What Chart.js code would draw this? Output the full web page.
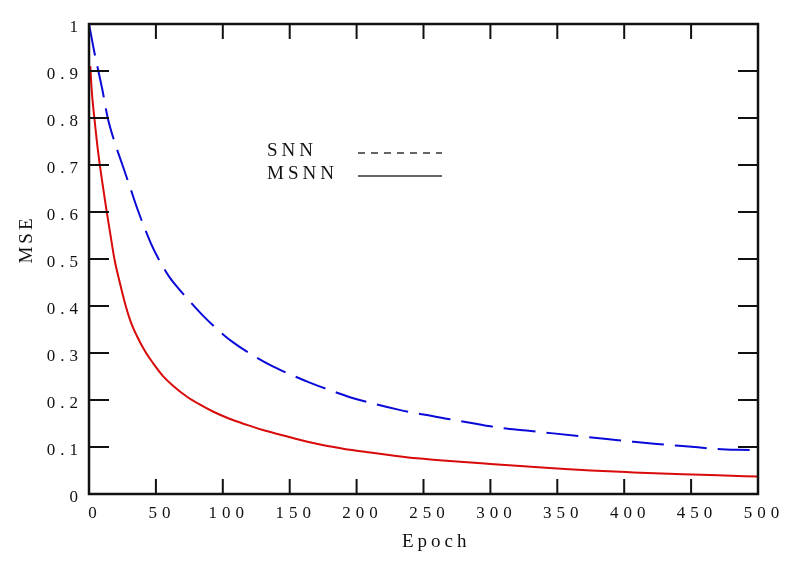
<!DOCTYPE html>
<html>
<head>
<meta charset="utf-8">
<script src="https://cdn.jsdelivr.net/npm/chart.js@4"></script>
<style>
  html, body { margin: 0; padding: 0; background: #fff; }
  #grafica { display: block; }
</style>
</head>
<body>
<canvas id="grafica" width="796" height="562"></canvas>
<script>
// SNN (dashed blue)
const epochsSNN = [0, 2, 4, 7, 10, 14, 19, 25, 31, 37, 46, 52, 60, 66, 75, 85, 96, 108, 122, 137,
  150, 165, 180, 195, 213, 232, 250, 270, 288, 307, 327, 347, 367, 387, 407, 427, 448, 469, 485, 500];
const mseSNN = [1.0, 0.97, 0.94, 0.90, 0.86, 0.80, 0.75, 0.70, 0.65, 0.60, 0.535, 0.50, 0.462, 0.440, 0.411, 0.380, 0.350, 0.322, 0.296, 0.272,
  0.255, 0.237, 0.221, 0.206, 0.192, 0.179, 0.169, 0.159, 0.150, 0.141, 0.135, 0.129, 0.123, 0.117, 0.111, 0.106, 0.101, 0.096, 0.094, 0.093];

// MSNN (solid red)
const epochsMSNN = [1, 2, 4, 6, 8, 10, 13, 16, 19, 23, 27, 31, 36, 42, 48, 55, 63, 73, 83, 93,
  105, 118, 130, 143, 158, 170, 183, 195, 208, 227, 245, 262, 280, 300, 325, 347, 375, 407, 444, 470, 500];
const mseMSNN = [0.91, 0.86, 0.80, 0.747, 0.702, 0.662, 0.605, 0.552, 0.50, 0.45, 0.405, 0.368, 0.335, 0.303, 0.278, 0.252, 0.230, 0.2075, 0.190, 0.175,
  0.160, 0.147, 0.136, 0.126, 0.115, 0.107, 0.100, 0.094, 0.089, 0.082, 0.076, 0.072, 0.068, 0.064, 0.059, 0.055, 0.050, 0.046, 0.042, 0.040, 0.037];

const xTicks = [0, 50, 100, 150, 200, 250, 300, 350, 400, 450, 500];
const yTicks = [0, 0.1, 0.2, 0.3, 0.4, 0.5, 0.6, 0.7, 0.8, 0.9, 1];
const xTitle = 'Epoch';
const yTitle = 'MSE';

const fuente = "'Liberation Serif', 'DejaVu Serif', serif";
const tinta = '#111';

function puntos(xs, ys) {
  return xs.map((x, i) => ({ x: x, y: ys[i] }));
}

// letter spacing like the original (canvas state is reset on resize)
const espaciado = {
  id: 'espaciado',
  beforeUpdate(chart) { chart.ctx.letterSpacing = '5px'; },
  beforeDraw(chart) { chart.ctx.letterSpacing = '5px'; }
};

// frame with inner ticks on all four sides, plus axis titles
const marco = {
  id: 'marco',
  afterDraw(chart) {
    const ctx = chart.ctx;
    const a = chart.chartArea;
    const sx = chart.scales.x, sy = chart.scales.y;
    ctx.save();
    ctx.strokeStyle = '#111';
    ctx.lineWidth = 2.5;
    ctx.strokeRect(a.left, a.top, a.right - a.left, a.bottom - a.top);
    ctx.lineWidth = 2;
    ctx.beginPath();
    xTicks.slice(1, -1).forEach(v => {
      const px = sx.getPixelForValue(v);
      ctx.moveTo(px, a.bottom); ctx.lineTo(px, a.bottom - 15);
      ctx.moveTo(px, a.top); ctx.lineTo(px, a.top + 15);
    });
    yTicks.slice(1, -1).forEach(v => {
      const py = sy.getPixelForValue(v);
      ctx.moveTo(a.left, py); ctx.lineTo(a.left + 20, py);
      ctx.moveTo(a.right, py); ctx.lineTo(a.right - 20, py);
    });
    ctx.stroke();

    ctx.fillStyle = tinta;
    ctx.font = '19px ' + fuente;
    ctx.letterSpacing = '4px';
    ctx.textAlign = 'left';
    ctx.textBaseline = 'alphabetic';
    ctx.fillText(xTitle, 402, 547);

    ctx.letterSpacing = '3px';
    ctx.translate(32, 241);
    ctx.rotate(-Math.PI / 2);
    const w = ctx.measureText(yTitle).width - 3;
    ctx.fillText(yTitle, -w / 2, 0);
    ctx.restore();
  }
};

// legend placed inside the plot, like the picture
const leyenda = {
  id: 'leyenda',
  afterDraw(chart) {
    const ctx = chart.ctx;
    const filas = [{ y: 151, dash: [7, 6] }, { y: 174, dash: [] }];
    ctx.save();
    ctx.letterSpacing = '4px';
    ctx.font = '19px ' + fuente;
    ctx.fillStyle = tinta;
    ctx.textBaseline = 'middle';
    ctx.textAlign = 'left';
    chart.data.datasets.forEach((ds, i) => {
      const f = filas[i];
      ctx.fillText(ds.label, 267, f.y);
      ctx.strokeStyle = '#333';
      ctx.lineWidth = 1.5;
      ctx.setLineDash(f.dash);
      ctx.beginPath();
      ctx.moveTo(358, f.y + 2);
      ctx.lineTo(442, f.y + 2);
      ctx.stroke();
    });
    ctx.restore();
  }
};

new Chart(document.getElementById('grafica'), {
  type: 'line',
  data: {
    datasets: [
      {
        label: 'SNN',
        data: puntos(epochsSNN, mseSNN),
        borderColor: '#0a0ad8',
        borderWidth: 2,
        borderDash: [32, 11],
        pointRadius: 0,
        cubicInterpolationMode: 'monotone',
        fill: false
      },
      {
        label: 'MSNN',
        data: puntos(epochsMSNN, mseMSNN),
        borderColor: '#d80a0a',
        borderWidth: 2,
        pointRadius: 0,
        cubicInterpolationMode: 'monotone',
        fill: false
      }
    ]
  },
  options: {
    responsive: false,
    animation: false,
    devicePixelRatio: 1,
    layout: { padding: { top: 24, right: 38, left: 0, bottom: 0 } },
    plugins: {
      legend: { display: false },
      tooltip: { enabled: false }
    },
    scales: {
      x: {
        type: 'linear',
        min: 0,
        max: 500,
        afterBuildTicks: s => { s.ticks = xTicks.map(v => ({ value: v })); },
        afterFit: s => { s.height = 68; },
        grid: { display: false, drawTicks: false },
        border: { display: false },
        ticks: {
          color: tinta,
          font: { family: fuente, size: 17 },
          padding: 9,
          labelOffset: 6,
          maxRotation: 0,
          autoSkip: false
        },
        title: { display: false }
      },
      y: {
        min: 0,
        max: 1,
        afterBuildTicks: s => { s.ticks = yTicks.map(v => ({ value: v })); },
        afterFit: s => { s.width = 89; },
        grid: { display: false, drawTicks: false },
        border: { display: false },
        ticks: {
          color: tinta,
          font: { family: fuente, size: 17 },
          padding: 6,
          labelOffset: 4,
          autoSkip: false,
          callback: v => String(v)
        },
        title: { display: false }
      }
    }
  },
  plugins: [espaciado, marco, leyenda]
});
</script>
</body>
</html>
